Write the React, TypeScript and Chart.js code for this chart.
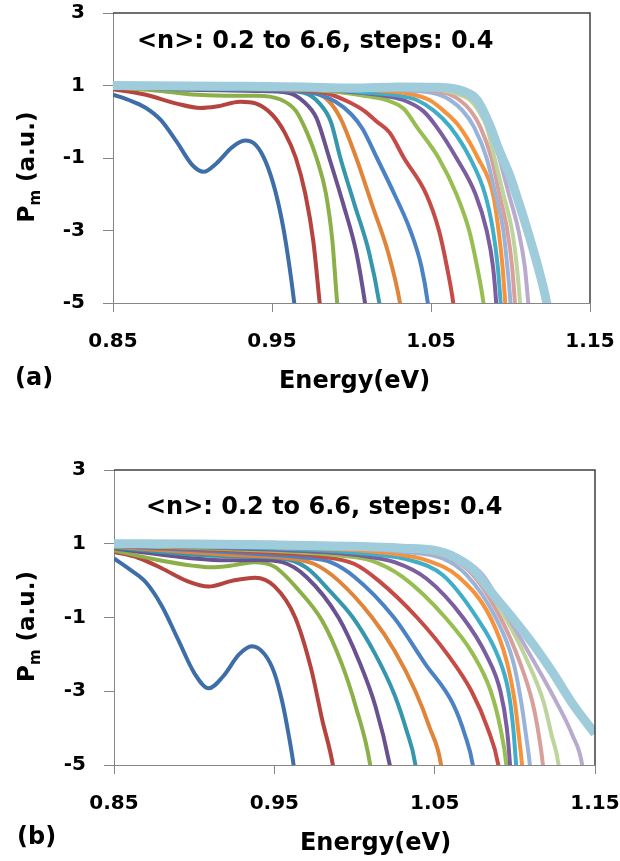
import React, { useEffect, useRef } from "react";
import { Chart, registerables } from "chart.js";

Chart.register(...registerables);

// ---------- labels & ticks ----------
const X_TICKS = [0.85, 0.95, 1.05, 1.15];
const Y_TICKS = [-5, -3, -1, 1, 3];
const N_VALUES = ["0.2", "0.6", "1.0", "1.4", "1.8", "2.2", "2.6", "3.0", "3.4", "3.8", "4.2", "4.6", "5.0", "5.4", "5.8", "6.2", "6.6"];
const NOTE_TEXT = "<n>: 0.2 to 6.6, steps: 0.4";
const X_TITLE = "Energy(eV)";
const Y_TITLE_MAIN = "P";
const Y_TITLE_SUB = "m";
const Y_TITLE_UNIT = " (a.u.)";

const COLORS = [
  "#3E6EA8", "#B5443F", "#8CB048", "#6A5290", "#3596AE", "#E0843A",
  "#4A82C4", "#C64B47", "#96BE50", "#7B5DA0", "#40AEC8", "#F7923C",
  "#98B4DA", "#D8A09D", "#BDD49C", "#B8ABCE", "#9FCCDB",
];

// ---------- panel (a) series: [energy eV, Pm] ----------
const A1: [number, number][] = [[0.85, 0.75], [0.86, 0.6], [0.87, 0.4], [0.88, 0.05], [0.89, -0.55], [0.9, -1.2], [0.907, -1.38], [0.915, -1.15], [0.925, -0.7], [0.933, -0.52], [0.94, -0.65], [0.946, -1.1], [0.952, -1.9], [0.957, -2.9], [0.961, -4.0], [0.964, -5], [0.966, -5.8]];
const A2: [number, number][] = [[0.85, 0.9], [0.87, 0.75], [0.89, 0.5], [0.905, 0.38], [0.915, 0.42], [0.93, 0.55], [0.94, 0.5], [0.95, 0.2], [0.958, -0.3], [0.965, -1.0], [0.971, -2.0], [0.976, -3.3], [0.98, -5], [0.982, -5.8]];
const A3: [number, number][] = [[0.85, 0.95], [0.88, 0.85], [0.9, 0.75], [0.92, 0.72], [0.94, 0.72], [0.955, 0.62], [0.965, 0.3], [0.972, -0.3], [0.978, -1.0], [0.984, -2.0], [0.988, -3.3], [0.991, -5], [0.993, -5.8]];
const A4: [number, number][] = [[0.85, 0.97], [0.9, 0.88], [0.94, 0.85], [0.96, 0.8], [0.97, 0.55], [0.978, 0.1], [0.986, -1.0], [0.995, -2.3], [1.003, -3.6], [1.0085, -5], [1.011, -5.8]];
const A5: [number, number][] = [[0.85, 0.98], [0.9, 0.9], [0.95, 0.87], [0.97, 0.8], [0.98, 0.5], [0.987, 0.0], [0.993, -1.0], [1.002, -2.3], [1.011, -3.6], [1.0175, -5], [1.02, -5.8]];
const A6: [number, number][] = [[0.85, 0.98], [0.95, 0.88], [0.975, 0.82], [0.985, 0.6], [0.993, 0.1], [1.003, -1.0], [1.013, -2.3], [1.023, -3.6], [1.0305, -5], [1.033, -5.8]];
const A7: [number, number][] = [[0.85, 0.97], [0.95, 0.88], [0.975, 0.8], [0.99, 0.55], [1.0, 0.2], [1.007, -0.2], [1.016, -1.0], [1.027, -2.0], [1.037, -3.0], [1.044, -4.0], [1.048, -5], [1.05, -5.8]];
const A8: [number, number][] = [[0.85, 0.98], [0.96, 0.88], [0.985, 0.78], [0.998, 0.55], [1.008, 0.3], [1.016, 0.0], [1.024, -0.3], [1.033, -1.0], [1.047, -2.0], [1.055, -3.0], [1.06, -4.0], [1.064, -5], [1.066, -5.8]];
const A9: [number, number][] = [[0.85, 0.98], [0.97, 0.88], [0.995, 0.8], [1.01, 0.7], [1.022, 0.6], [1.033, 0.35], [1.041, -0.14], [1.0548, -1.0], [1.066, -2.0], [1.074, -3.0], [1.079, -4.0], [1.083, -5], [1.085, -5.8]];
const A10: [number, number][] = [[0.85, 0.98], [0.98, 0.88], [1.0, 0.82], [1.02, 0.72], [1.0325, 0.6], [1.045, 0.3], [1.0535, -0.14], [1.066, -1.0], [1.078, -2.0], [1.085, -3.0], [1.089, -4.0], [1.091, -5], [1.092, -5.8]];
const A11: [number, number][] = [[0.85, 0.98], [0.99, 0.88], [1.01, 0.8], [1.03, 0.72], [1.041, 0.6], [1.052, 0.3], [1.062, -0.14], [1.0745, -1.0], [1.084, -2.0], [1.089, -3.0], [1.092, -4.0], [1.0938, -5], [1.095, -5.8]];
const A12: [number, number][] = [[0.85, 0.98], [1.0, 0.9], [1.02, 0.85], [1.035, 0.78], [1.049, 0.6], [1.058, 0.3], [1.068, -0.14], [1.0795, -1.0], [1.089, -2.0], [1.0925, -3.0], [1.095, -4.0], [1.0967, -5], [1.098, -5.8]];
const A13: [number, number][] = [[0.85, 0.99], [1.01, 0.92], [1.04, 0.85], [1.055, 0.75], [1.062, 0.6], [1.07, 0.3], [1.077, -0.14], [1.085, -1.0], [1.0905, -2.0], [1.0955, -3.0], [1.098, -4.0], [1.1, -5], [1.101, -5.8]];
const A14: [number, number][] = [[0.85, 0.99], [1.02, 0.94], [1.05, 0.86], [1.062, 0.75], [1.068, 0.6], [1.075, 0.3], [1.081, -0.14], [1.088, -1.0], [1.093, -2.0], [1.098, -3.0], [1.101, -4.0], [1.1028, -5], [1.104, -5.8]];
const A15: [number, number][] = [[0.85, 1.0], [1.03, 0.95], [1.055, 0.88], [1.067, 0.76], [1.0745, 0.6], [1.08, 0.3], [1.085, -0.14], [1.09, -1.0], [1.0955, -2.0], [1.101, -3.0], [1.104, -4.0], [1.106, -5], [1.107, -5.8]];
const A16: [number, number][] = [[0.85, 1.0], [1.04, 0.96], [1.06, 0.9], [1.07, 0.78], [1.077, 0.6], [1.083, 0.3], [1.088, -0.14], [1.093, -1.0], [1.099, -2.0], [1.105, -3.0], [1.109, -4.0], [1.1112, -5], [1.113, -5.8]];
const A17: [number, number][] = [[0.85, 1.0], [0.92, 0.98], [0.97, 0.96], [1.0, 0.93], [1.03, 0.96], [1.055, 0.95], [1.07, 0.85], [1.079, 0.6], [1.087, -0.1], [1.093, -0.8], [1.0997, -1.5], [1.105, -2.2], [1.11, -2.9], [1.116, -3.8], [1.1228, -5], [1.125, -5.6]];

// ---------- panel (b) series ----------
const B1: [number, number][] = [[0.85, 0.6], [0.86, 0.3], [0.87, -0.05], [0.88, -0.7], [0.89, -1.6], [0.9, -2.5], [0.909, -2.92], [0.918, -2.6], [0.928, -2.0], [0.936, -1.78], [0.944, -2.0], [0.95, -2.5], [0.955, -3.3], [0.959, -4.2], [0.962, -5], [0.964, -5.8]];
const B2: [number, number][] = [[0.85, 0.78], [0.865, 0.62], [0.88, 0.33], [0.895, 0.0], [0.909, -0.16], [0.924, 0.0], [0.938, 0.08], [0.95, -0.15], [0.963, -1.0], [0.973, -2.4], [0.98, -3.8], [0.9865, -5], [0.989, -5.8]];
const B3: [number, number][] = [[0.85, 0.82], [0.875, 0.58], [0.9, 0.4], [0.91, 0.36], [0.925, 0.42], [0.937, 0.5], [0.95, 0.38], [0.965, -0.25], [0.98, -1.1], [0.992, -2.25], [1.001, -3.45], [1.0098, -5], [1.012, -5.8]];
const B4: [number, number][] = [[0.85, 0.88], [0.88, 0.7], [0.9, 0.6], [0.92, 0.55], [0.94, 0.56], [0.955, 0.5], [0.97, 0.1], [0.99, -1.0], [1.003, -2.2], [1.013, -3.4], [1.022, -5], [1.025, -5.8]];
const B5: [number, number][] = [[0.85, 0.9], [0.9, 0.7], [0.93, 0.65], [0.955, 0.6], [0.97, 0.35], [0.985, -0.3], [0.999, -1.0], [1.013, -2.0], [1.025, -3.1], [1.032, -4.0], [1.038, -5], [1.04, -5.8]];
const B6: [number, number][] = [[0.85, 0.92], [0.92, 0.7], [0.96, 0.6], [0.975, 0.45], [0.99, 0.0], [1.011, -1.0], [1.025, -1.9], [1.038, -3.0], [1.047, -4.0], [1.054, -5], [1.056, -5.8]];
const B7: [number, number][] = [[0.85, 0.94], [0.94, 0.72], [0.97, 0.62], [0.985, 0.5], [1.0, 0.1], [1.0246, -1.0], [1.044, -2.25], [1.0615, -3.35], [1.069, -4.2], [1.0738, -5], [1.076, -5.8]];
const B8: [number, number][] = [[0.85, 0.95], [0.95, 0.75], [0.98, 0.65], [1.0, 0.45], [1.015, 0.0], [1.039, -1.0], [1.058, -2.0], [1.073, -3.0], [1.083, -4.0], [1.0897, -5], [1.092, -5.8]];
const B9: [number, number][] = [[0.85, 0.96], [0.96, 0.78], [0.99, 0.68], [1.01, 0.55], [1.03, 0.1], [1.0566, -1.0], [1.074, -2.0], [1.085, -3.0], [1.091, -4.0], [1.0947, -5], [1.096, -5.8]];
const B10: [number, number][] = [[0.85, 0.97], [0.97, 0.8], [1.0, 0.7], [1.025, 0.5], [1.045, 0.05], [1.0676, -1.0], [1.082, -2.0], [1.091, -3.0], [1.095, -4.0], [1.097, -5], [1.098, -5.8]];
const B11: [number, number][] = [[0.85, 0.97], [0.98, 0.82], [1.01, 0.72], [1.035, 0.55], [1.055, 0.15], [1.0762, -1.0], [1.089, -2.0], [1.096, -3.0], [1.099, -4.0], [1.1008, -5], [1.102, -5.8]];
const B12: [number, number][] = [[0.85, 0.98], [0.99, 0.85], [1.02, 0.75], [1.045, 0.55], [1.065, 0.1], [1.0848, -1.0], [1.095, -2.2], [1.1, -3.3], [1.1025, -4.2], [1.1045, -5], [1.106, -5.8]];
const B13: [number, number][] = [[0.85, 0.98], [1.0, 0.88], [1.03, 0.78], [1.055, 0.6], [1.07, 0.15], [1.088, -1.0], [1.099, -2.2], [1.104, -3.3], [1.107, -4.2], [1.1094, -5], [1.111, -5.8]];
const B14: [number, number][] = [[0.85, 0.99], [1.01, 0.9], [1.04, 0.8], [1.06, 0.6], [1.074, 0.15], [1.091, -1.0], [1.103, -2.2], [1.111, -3.3], [1.115, -4.2], [1.1175, -5], [1.119, -5.8]];
const B15: [number, number][] = [[0.85, 0.99], [1.02, 0.92], [1.05, 0.82], [1.064, 0.6], [1.077, 0.15], [1.094, -1.0], [1.108, -2.2], [1.118, -3.3], [1.123, -4.2], [1.1273, -5], [1.129, -5.8]];
const B16: [number, number][] = [[0.85, 1.0], [1.03, 0.93], [1.055, 0.82], [1.067, 0.6], [1.08, 0.15], [1.096, -1.0], [1.112, -2.2], [1.126, -3.3], [1.136, -4.2], [1.142, -5], [1.144, -5.8]];
const B17: [number, number][] = [[0.85, 1.0], [0.9, 0.99], [0.95, 0.97], [1.0, 0.93], [1.03, 0.88], [1.05, 0.82], [1.062, 0.65], [1.074, 0.3], [1.086, -0.35], [1.0984, -1.0], [1.111, -1.7], [1.123, -2.45], [1.137, -3.4], [1.15, -4.15]];

const PANEL_A = [A1, A2, A3, A4, A5, A6, A7, A8, A9, A10, A11, A12, A13, A14, A15, A16, A17];
const PANEL_B = [B1, B2, B3, B4, B5, B6, B7, B8, B9, B10, B11, B12, B13, B14, B15, B16, B17];

const FONT = "DejaVu Sans";

type PanelCfg = {
  series: [number, number][][];
  letter: string;
  padTop: number;
  padRight: number;
  yWidth: number;
  xHeight: number;
  noteX: number;
  noteY: number;
  letterX: number;
  letterY: number;
  titleDX: number;
  titleY: number;
  yLabelX: number;
  yLabelDY: number;
};

const CFG_A: PanelCfg = {
  series: PANEL_A, letter: "(a)", padTop: 13, padRight: 30, yWidth: 113, xHeight: 127,
  noteX: 137, noteY: 48, letterX: 15, letterY: 385, titleDX: 3, titleY: 388, yLabelX: 34, yLabelDY: 9,
};
const CFG_B: PanelCfg = {
  series: PANEL_B, letter: "(b)", padTop: 40, padRight: 25, yWidth: 114, xHeight: 96,
  noteX: 146, noteY: 84, letterX: 17, letterY: 414, titleDX: 21, titleY: 420, yLabelX: 34, yLabelDY: 9,
};

function decorPlugin(cfg: PanelCfg) {
  return {
    id: "decor",
    afterDraw(chart: any) {
      const ctx = chart.ctx as CanvasRenderingContext2D;
      const { left, right, top, bottom } = chart.chartArea;
      ctx.save();
      // top & right frame
      ctx.strokeStyle = "#404040";
      ctx.lineWidth = 1.5;
      ctx.beginPath();
      ctx.moveTo(left, top);
      ctx.lineTo(right, top);
      ctx.lineTo(right, bottom);
      ctx.stroke();

      ctx.fillStyle = "#000";
      ctx.textBaseline = "alphabetic";
      ctx.font = `bold 24px "${FONT}"`;
      ctx.textAlign = "left";
      ctx.fillText(NOTE_TEXT, cfg.noteX, cfg.noteY);
      ctx.fillText(cfg.letter, cfg.letterX, cfg.letterY);
      ctx.textAlign = "center";
      ctx.fillText(X_TITLE, (left + right) / 2 + cfg.titleDX, cfg.titleY);

      // rotated y title with subscript
      const bigFont = `bold 23px "${FONT}"`;
      const smallFont = `bold 15px "${FONT}"`;
      ctx.font = bigFont;
      const wP = ctx.measureText(Y_TITLE_MAIN).width;
      const wU = ctx.measureText(Y_TITLE_UNIT).width;
      ctx.font = smallFont;
      const wM = ctx.measureText(Y_TITLE_SUB).width;
      const total = wP + wM + wU;
      const cy = (top + bottom) / 2 + cfg.yLabelDY;
      ctx.translate(cfg.yLabelX, cy);
      ctx.rotate(-Math.PI / 2);
      ctx.textAlign = "left";
      const start = -total / 2;
      ctx.font = bigFont;
      ctx.fillText(Y_TITLE_MAIN, start, 0);
      ctx.font = smallFont;
      ctx.fillText(Y_TITLE_SUB, start + wP, 6);
      ctx.font = bigFont;
      ctx.fillText(Y_TITLE_UNIT, start + wP + wM, 0);
      ctx.restore();
    },
  };
}

function buildChart(canvas: HTMLCanvasElement, cfg: PanelCfg) {
  const tickFont = { family: FONT, weight: "bold" as const, size: 20, lineHeight: 1.2 };
  return new Chart(canvas, {
    type: "line",
    data: {
      datasets: cfg.series.map((pts, i) => ({
        label: N_VALUES[i],
        data: pts.map(([x, y]) => ({ x, y })),
        borderColor: COLORS[i],
        backgroundColor: COLORS[i],
        borderWidth: i === cfg.series.length - 1 ? 9 : 4,
        pointRadius: 0,
        fill: false,
        cubicInterpolationMode: "monotone" as const,
        order: cfg.series.length - 1 - i,
        clip: 0,
      })),
    },
    options: {
      animation: false,
      responsive: false,
      events: [],
      layout: { padding: { top: cfg.padTop, right: cfg.padRight, left: 0, bottom: 0 } },
      plugins: { legend: { display: false }, tooltip: { enabled: false }, title: { display: false } },
      scales: {
        x: {
          type: "linear",
          min: 0.85,
          max: 1.15,
          afterBuildTicks: (s: any) => { s.ticks = X_TICKS.map((v) => ({ value: v })); },
          afterFit: (s: any) => {
            s.height = cfg.xHeight;
            s.paddingLeft = 0;
            s.paddingRight = 0;
            s.paddingTop = 0;
            s.paddingBottom = 0;
          },
          ticks: {
            callback: (v: any) => Number(v).toFixed(2),
            font: tickFont,
            color: "#000",
            padding: 18,
            maxRotation: 0,
            autoSkip: false,
          },
          grid: { display: true, drawOnChartArea: false, drawTicks: true, tickLength: 9, color: "#868686", lineWidth: 1 },
          border: { display: true, color: "#868686", width: 1 },
        },
        y: {
          type: "linear",
          min: -5,
          max: 3,
          afterBuildTicks: (s: any) => { s.ticks = Y_TICKS.map((v) => ({ value: v })); },
          afterFit: (s: any) => {
            s.width = cfg.yWidth;
            s.paddingLeft = 0;
            s.paddingRight = 0;
            s.paddingTop = 0;
            s.paddingBottom = 0;
          },
          ticks: {
            callback: (v: any) => String(v),
            font: tickFont,
            color: "#000",
            padding: 18,
            autoSkip: false,
          },
          grid: { display: true, drawOnChartArea: false, drawTicks: true, tickLength: 10, color: "#868686", lineWidth: 1 },
          border: { display: true, color: "#868686", width: 1 },
        },
      },
    },
    plugins: [decorPlugin(cfg)],
  } as any);
}

export default function App() {
  const refA = useRef<HTMLCanvasElement>(null);
  const refB = useRef<HTMLCanvasElement>(null);
  useEffect(() => {
    const a = buildChart(refA.current!, CFG_A);
    const b = buildChart(refB.current!, CFG_B);
    return () => {
      a.destroy();
      b.destroy();
    };
  }, []);
  return (
    <div style={{ position: "absolute", left: 0, top: 0, width: 620, height: 861, background: "#fff" }}>
      <canvas ref={refA} width={620} height={430} style={{ position: "absolute", left: 0, top: 0, width: 620, height: 430 }} />
      <canvas ref={refB} width={620} height={431} style={{ position: "absolute", left: 0, top: 430, width: 620, height: 431 }} />
    </div>
  );
}
